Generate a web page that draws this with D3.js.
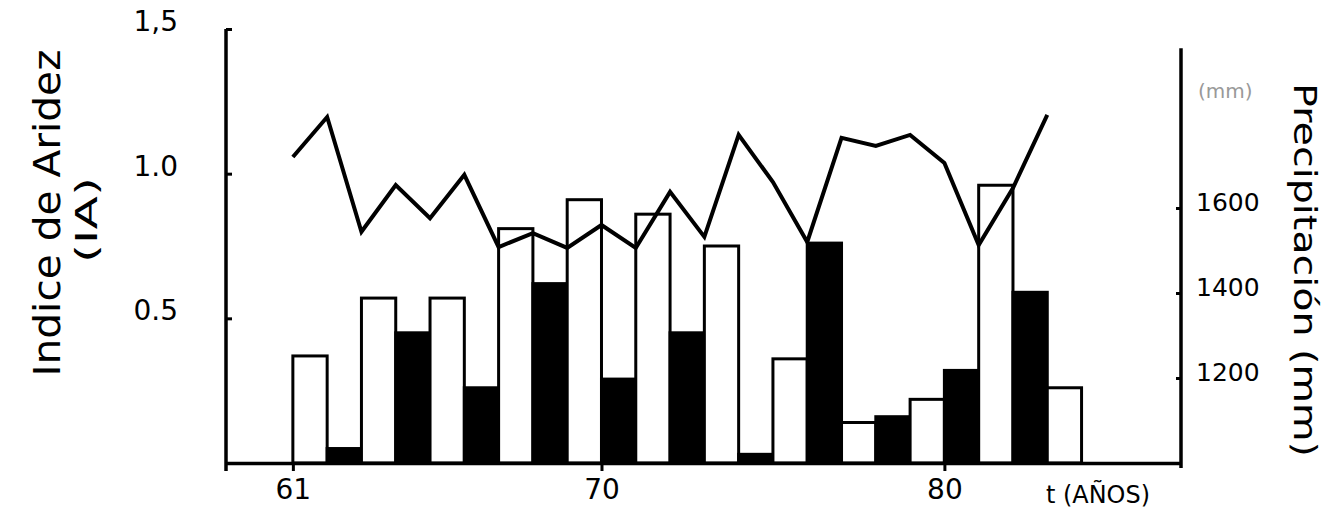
<!DOCTYPE html>
<html>
<head>
<meta charset="utf-8">
<script src="https://cdn.jsdelivr.net/npm/d3@7"></script>
<style>
  html, body { margin: 0; padding: 0; background: #fff; }
  svg { display: block; }
  text { font-family: "DejaVu Sans", sans-serif; fill: #000; }
</style>
</head>
<body>
<svg id="chart" width="1339" height="521"></svg>
<script>
// ---- data ----
const years = [61,62,63,64,65,66,67,68,69,70,71,72,73,74,75,76,77,78,79,80,81,82,83];
const aridityIndex = [0.37,0.05,0.57,0.45,0.57,0.26,0.81,0.62,0.91,0.29,0.86,0.45,0.75,0.03,0.36,0.76,0.14,0.16,0.22,0.32,0.96,0.59,0.26];
const barType = ["open","solid","open","solid","open","solid","open","solid","open","solid","open","solid","open","solid","open","solid","open","solid","open","solid","open","solid","open"];
const precipitation = [1720,1814,1544,1654,1576,1678,1508,1541,1506,1560,1506,1638,1532,1772,1661,1520,1765,1746,1772,1706,1513,1647,1819];
const xTicks = [61,70,80];
const leftTicks = [0.5,1.0,1.5];
const leftTickLabels = ["0.5","1.0","1,5"];
const rightTicks = [1200,1400,1600];

// ---- layout ----
const svg = d3.select("#chart");
const x = d3.scaleLinear().domain([59.05, 86.9]).range([226, 1181]);
const yL = d3.scaleLinear().domain([0, 1.5]).range([463, 29]);
const yR = d3.scaleLinear().domain([1000, 2000]).range([463, 38]);
const fills = {open: "#fff", solid: "#000"};

// bars
const barData = years.map((yr, i) => ({yr, v: aridityIndex[i], t: barType[i]}));
svg.append("g").selectAll("rect").data(barData).join("rect")
  .attr("x", d => x(d.yr))
  .attr("width", d => x(d.yr + 1) - x(d.yr))
  .attr("y", d => yL(d.v))
  .attr("height", d => yL(0) - yL(d.v))
  .attr("fill", d => fills[d.t])
  .attr("stroke", "#000")
  .attr("stroke-width", 3);

// precipitation line
const lineData = years.map((yr, i) => ({yr, p: precipitation[i]}));
svg.append("path").datum(lineData)
  .attr("fill", "none").attr("stroke", "#000").attr("stroke-width", 4)
  .attr("stroke-linejoin", "miter")
  .attr("d", d3.line().x(d => x(d.yr)).y(d => yR(d.p)));

// axes
const gx = svg.append("g").attr("transform", `translate(0,${yL(0)})`)
  .call(d3.axisBottom(x).tickValues(xTicks).tickSize(8).tickSizeOuter(0).tickPadding(8).tickFormat(d3.format("d")));
gx.select(".domain").attr("stroke-width", 3.5);
gx.selectAll(".tick line").attr("stroke-width", 3);
gx.selectAll(".tick text").attr("font-size", 28).attr("font-family", "DejaVu Sans");

const gl = svg.append("g").attr("transform", `translate(${x.range()[0]},0)`)
  .call(d3.axisLeft(yL).tickValues(leftTicks).tickSize(-6).tickSizeOuter(0).tickPadding(48)
    .tickFormat((d, i) => leftTickLabels[i]));
gl.select(".domain").remove();
gl.selectAll(".tick line").attr("stroke-width", 3);
gl.selectAll(".tick text").attr("font-size", 28).attr("dy", "0.05em").attr("font-family", "DejaVu Sans");
svg.append("line").attr("x1", x.range()[0]).attr("x2", x.range()[0])
  .attr("y1", yL(1.5)).attr("y2", yL(0) + 8).attr("stroke", "#000").attr("stroke-width", 3.5);

const gr = svg.append("g").attr("transform", `translate(${x.range()[1]},0)`)
  .call(d3.axisRight(yR).tickValues(rightTicks).tickSize(-5).tickSizeOuter(0).tickPadding(15).tickFormat(d3.format("d")));
gr.select(".domain").remove();
gr.selectAll(".tick line").attr("stroke-width", 3);
gr.selectAll(".tick text").attr("font-size", 25).attr("dy", "0.1em").attr("font-family", "DejaVu Sans");
svg.append("line").attr("x1", x.range()[1]).attr("x2", x.range()[1])
  .attr("y1", yR(1976)).attr("y2", yR(1000) + 5).attr("stroke", "#000").attr("stroke-width", 3.5);

// axis titles
svg.append("text")
  .attr("transform", "translate(60,213) rotate(-90)")
  .attr("text-anchor", "middle").attr("font-size", 38)
  .attr("textLength", 327).attr("lengthAdjust", "spacingAndGlyphs")
  .text("Indice de Aridez");
svg.append("text")
  .attr("transform", "translate(97,220) rotate(-90)")
  .attr("text-anchor", "middle").attr("font-size", 30)
  .attr("textLength", 86).attr("lengthAdjust", "spacingAndGlyphs")
  .text("(IA)");
svg.append("text")
  .attr("transform", "translate(1294,270) rotate(90)")
  .attr("text-anchor", "middle").attr("font-size", 32)
  .attr("textLength", 374).attr("lengthAdjust", "spacingAndGlyphs")
  .text("Precipitación (mm)");
svg.append("text")
  .attr("x", 1198).attr("y", 98).attr("font-size", 20).style("fill", "#999")
  .text("(mm)");
svg.append("text")
  .attr("x", 1046).attr("y", 503).attr("font-size", 24)
  .attr("textLength", 104).attr("lengthAdjust", "spacingAndGlyphs")
  .text("t (AÑOS)");
</script>
</body>
</html>
